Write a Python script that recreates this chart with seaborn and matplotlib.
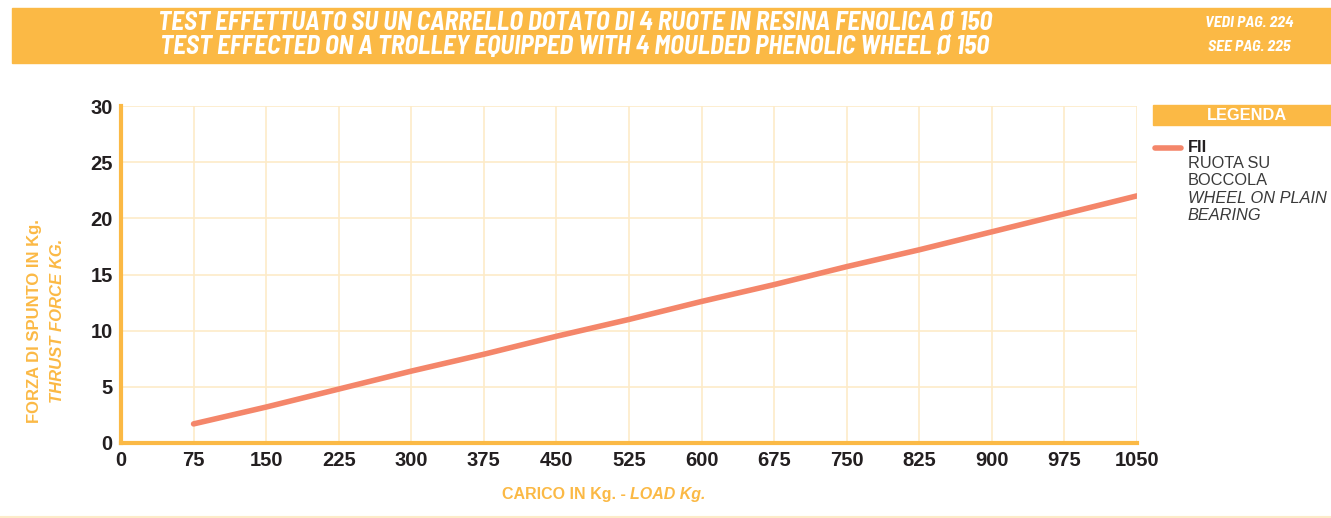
import numpy as np
import pandas as pd
import matplotlib.pyplot as plt
import seaborn as sns
from matplotlib.patches import Rectangle

# Data
load_kg = [75, 150, 225, 300, 375, 450, 525, 600, 675, 750, 825, 900, 975, 1050]
thrust_kg = [1.7, 3.2, 4.8, 6.4, 7.9, 9.5, 11.0, 12.6, 14.1, 15.7, 17.2, 18.8, 20.4, 22.0]
x_ticks = [0, 75, 150, 225, 300, 375, 450, 525, 600, 675, 750, 825, 900, 975, 1050]
y_ticks = [0, 5, 10, 15, 20, 25, 30]

df = pd.DataFrame({'load': load_kg, 'thrust': thrust_kg})

ORANGE = '#FBB945'
GRID = '#FDEBC8'
LINE = '#F4866A'
DARK = '#231F20'

sns.set_style("white")
plt.rcParams['font.family'] = ['Liberation Sans', 'DejaVu Sans']

W, H = 1331, 518
fig = plt.figure(figsize=(W / 100, H / 100), dpi=100)

# header band
fig.patches.append(Rectangle((12 / W, 1 - 63 / H), 1 - 12 / W, 55 / H,
                             transform=fig.transFigure, color=ORANGE, zorder=0))
narrow = ['Barlow Semi Condensed', 'Barlow Condensed', 'Liberation Sans', 'DejaVu Sans']
fig.text(575 / W, 1 - 22.5 / H, 'TEST EFFETTUATO SU UN CARRELLO DOTATO DI 4 RUOTE IN RESINA FENOLICA Ø 150',
         family=narrow, fontsize=18.5, fontweight='bold', style='italic', color='white',
         ha='center', va='center')
fig.text(575 / W, 1 - 47 / H, 'TEST EFFECTED ON A TROLLEY EQUIPPED WITH 4 MOULDED PHENOLIC WHEEL Ø 150',
         family=narrow, fontsize=18.5, fontweight='bold', style='italic', color='white',
         ha='center', va='center')
fig.text(1249 / W, 1 - 23 / H, 'VEDI PAG. 224', family=narrow, fontsize=11.5, fontweight='bold',
         style='italic', color='white', ha='center', va='center')
fig.text(1249 / W, 1 - 47 / H, 'SEE PAG. 225', family=narrow, fontsize=11.5, fontweight='bold',
         style='italic', color='white', ha='center', va='center')

# bottom separator
fig.add_artist(plt.Line2D([0, 1], [1 / H, 1 / H], transform=fig.transFigure, color=GRID, lw=1.5))

# main axes
ax = fig.add_axes([121 / W, 1 - 443 / H, (1137 - 121) / W, (443 - 106) / H])
sns.lineplot(data=df, x='load', y='thrust', ax=ax, color=LINE, linewidth=4, zorder=3)

ax.set_xlim(0, 1050)
ax.set_ylim(0, 30)
ax.set_xticks(x_ticks)
ax.set_yticks(y_ticks)
ax.grid(True, color=GRID, linewidth=1.2)
for s in ['top', 'right']:
    ax.spines[s].set_visible(False)
for s in ['left', 'bottom']:
    ax.spines[s].set_color(ORANGE)
    ax.spines[s].set_linewidth(3)
ax.tick_params(length=0, labelsize=14.5, labelcolor=DARK, pad=6)
for lab in ax.get_xticklabels() + ax.get_yticklabels():
    lab.set_fontweight('bold')
ax.set_xlabel('')
ax.set_ylabel('')

# axis titles
fig.text(35 / W, 1 - 321 / H, 'FORZA DI SPUNTO IN Kg.', rotation=90, color=ORANGE,
         fontsize=12, fontweight='bold', ha='center', va='center')
fig.text(58 / W, 1 - 321 / H, 'THRUST FORCE KG.', rotation=90, color=ORANGE,
         fontsize=12, fontweight='bold', style='italic', ha='center', va='center')
fig.text(630 / W, 1 - 495 / H, 'CARICO IN Kg. - ', color=ORANGE, fontsize=11.5,
         fontweight='bold', ha='right', va='center')
fig.text(630 / W, 1 - 495 / H, 'LOAD Kg.', color=ORANGE, fontsize=11.5,
         fontweight='bold', style='italic', ha='left', va='center')

# legend panel
fig.patches.append(Rectangle((1153 / W, 1 - 125 / H), (W - 1153) / W, 20 / H,
                             transform=fig.transFigure, color=ORANGE, zorder=0))
fig.text(1247 / W, 1 - 115.5 / H, 'LEGENDA', color='white', fontsize=11.8, fontweight='bold',
         ha='center', va='center')
fig.add_artist(plt.Line2D([1155 / W, 1181 / W], [1 - 148 / H, 1 - 148 / H],
                          transform=fig.transFigure, color=LINE, lw=4))
fig.text(1188 / W, 1 - 147 / H, 'FII', color=DARK, fontsize=11.8, fontweight='bold', va='center')
legend_lines = [('RUOTA SU', 'normal'), ('BOCCOLA', 'normal'),
                ('WHEEL ON PLAIN', 'italic'), ('BEARING', 'italic')]
for i, (txt, st) in enumerate(legend_lines):
    fig.text(1188 / W, 1 - (163.5 + 17.3 * i) / H, txt, color='#3a3a3a', fontsize=11.8,
             style=st, va='center')

fig.savefig('out.png', dpi=100)
